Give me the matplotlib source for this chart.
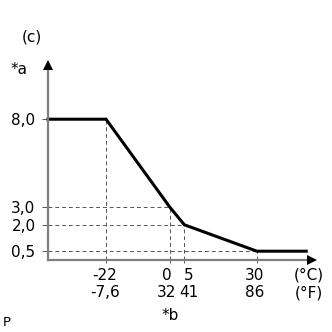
import matplotlib
matplotlib.use("Agg")
import matplotlib.pyplot as plt

plt.rcParams['font.family'] = ['DejaVu Sans']

# curve points (°C, value)
curve_x = [-42, -22, 0, 5, 30, 47]
curve_y = [8.0, 8.0, 3.0, 2.0, 0.5, 0.5]

# guide points
guide_x = [-22, 0, 5, 30]
guide_y = [8.0, 3.0, 2.0, 0.5]

xticks = [-22, 0, 5, 30]
xtick_c = ['-22', '0', '5', '30']
xtick_f = ['-7,6', '32', '41', '86']
yticks = [0.5, 2.0, 3.0, 8.0]
ytick_labels = ['0,5', '2,0', '3,0', '8,0']

# small sideways nudges (points) so "32" and "41" don't collide
label_shift = [-0.7, -2.2, 3.0, -1.4]

fs = 11

fig = plt.figure(figsize=(3.32, 3.32), dpi=100)
ax = fig.add_axes([0.1446, 0.2169, 0.7952, 0.5873])
ax.set_xlim(-42, 49)
ax.set_ylim(0, 11.08)

axis_col = '#7f7f7f'
for s in ['top', 'right']:
    ax.spines[s].set_visible(False)
for s in ['left', 'bottom']:
    ax.spines[s].set_color(axis_col)
    ax.spines[s].set_linewidth(1.6)

# arrow heads
ax.plot([1.0], [0.0], marker='>', color='black', markersize=7, markeredgewidth=0,
        transform=ax.transAxes, clip_on=False, zorder=5)
ax.plot([0.0], [1.0], marker='^', color='black', markersize=7, markeredgewidth=0,
        transform=ax.transAxes, clip_on=False, zorder=5)

# dashed guides
for gx, gy in zip(guide_x, guide_y):
    ax.plot([gx, gx], [0, gy], color='#555555', lw=0.7, ls=(0, (4, 3)))
for gx, gy in zip(guide_x[1:], guide_y[1:]):
    ax.plot([-42, gx], [gy, gy], color='#555555', lw=0.7, ls=(0, (4, 3)))

ax.plot(curve_x, curve_y, color='black', lw=2.2, solid_joinstyle='miter', clip_on=False)

ax.set_xticks(xticks)
ax.set_xticklabels([])
for x, c, f, dx in zip(xticks, xtick_c, xtick_f, label_shift):
    ax.annotate(c, xy=(x, 0), xycoords=('data', 'axes fraction'), xytext=(dx, -11),
                textcoords='offset points', ha='center', va='center', fontsize=fs)
    ax.annotate(f, xy=(x, 0), xycoords=('data', 'axes fraction'), xytext=(dx, -23.5),
                textcoords='offset points', ha='center', va='center', fontsize=fs)
ax.set_yticks(yticks)
ax.set_yticklabels(ytick_labels, fontsize=fs)
ax.tick_params(axis='x', length=5, width=0.7, color='#555555', direction='inout')
ax.tick_params(axis='y', length=4, width=0.7, color='#555555', pad=5)

fig.text(309 / 332, 1 - 275 / 332, '(°C)', fontsize=fs, ha='center', va='center')
fig.text(309 / 332, 1 - 293 / 332, '(°F)', fontsize=fs, ha='center', va='center')
fig.text(32 / 332, 1 - 37 / 332, '(c)', fontsize=fs, ha='center', va='center')
fig.text(19 / 332, 1 - 70 / 332, '*a', fontsize=fs, ha='center', va='center')
fig.text(170 / 332, 1 - 316 / 332, '*b', fontsize=fs, ha='center', va='center')
fig.text(7 / 332, 1 - 323 / 332, 'P', fontsize=9.5, ha='center', va='center')

fig.savefig('out.png', dpi=100)
